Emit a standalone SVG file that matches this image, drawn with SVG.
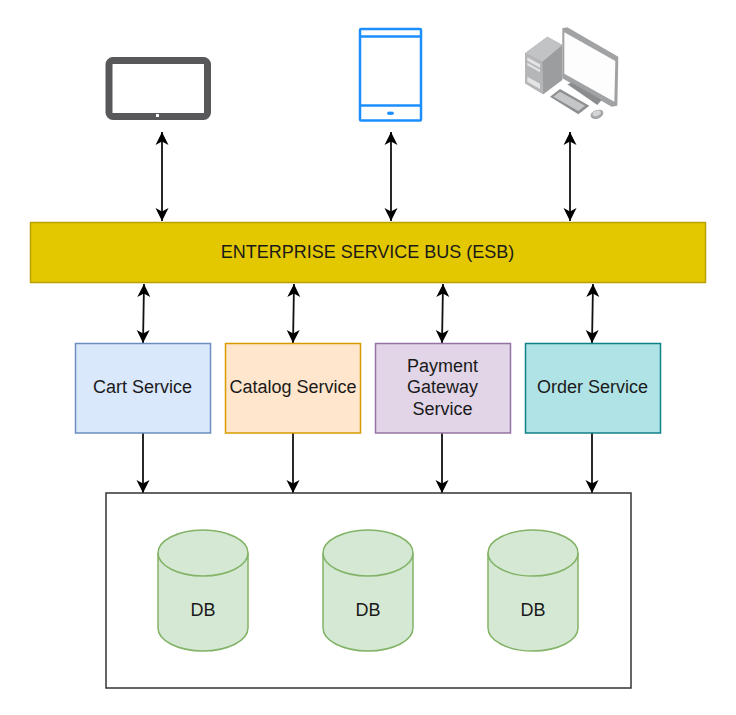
<svg xmlns="http://www.w3.org/2000/svg" width="736" height="715" viewBox="0 0 736 715">
<style>
text{font-family:"Liberation Sans",Arial,sans-serif;font-size:18px;fill:#1a1a1a;text-anchor:middle}
.db{fill:#d5e8d4;stroke:#82b366;stroke-width:1.5}
.box{stroke-width:1.5}
.c{fill:none;stroke:#111;stroke-width:1.8}
.both{marker-start:url(#as);marker-end:url(#ae)}
.one{marker-end:url(#ae)}
</style>
<defs>
<marker id="ae" markerUnits="userSpaceOnUse" markerWidth="16" markerHeight="16" refX="14" refY="8" orient="auto"><path d="M1 1.500L14 8L1 14.500L4.500 8Z" fill="#000"/></marker>
<marker id="as" markerUnits="userSpaceOnUse" markerWidth="16" markerHeight="16" refX="2" refY="8" orient="auto"><path d="M15 1.500L2 8L15 14.500L11.500 8Z" fill="#000"/></marker>
<filter id="soft" x="-5%" y="-5%" width="110%" height="110%"><feGaussianBlur stdDeviation="0.5"/></filter>
</defs>
<rect width="736" height="715" fill="#fff"/>
<g id="connectors">
<path class="c both" d="M162 132V221"/>
<path class="c both" d="M391 132V221"/>
<path class="c both" d="M570 132V221"/>
<path class="c both" d="M144 284L143 343"/>
<path class="c both" d="M294 284L293 343"/>
<path class="c both" d="M443 284L442 343"/>
<path class="c both" d="M593 284L592 343"/>
<path class="c one" d="M143 433V493"/>
<path class="c one" d="M293 433V493"/>
<path class="c one" d="M442 433V493"/>
<path class="c one" d="M592 433V493"/>
</g>
<g id="tablet" filter="url(#soft)">
<rect x="109" y="60.500" width="98.500" height="56" rx="4" fill="#fff" stroke="#58585a" stroke-width="7"/>
<rect x="156" y="114" width="3" height="3" fill="#fff"/>
</g>
<g id="phone" fill="none" stroke="#1e8fff" stroke-width="2.500" filter="url(#soft)">
<rect x="360" y="29" width="61" height="91.500" rx="1"/>
<path d="M360 36.500H421M360 105.500H421"/>
<rect x="387.500" y="112" width="6" height="2.500" rx="1.200" fill="#1e8fff" stroke-width="0.800"/>
</g>
<g id="desktop" transform="translate(510 15) scale(.3333)" filter="url(#soft)">
<path d="M45 115L112 65L157 90V195L100 238L45 205Z" fill="#9b9d9f"/>
<path d="M45 115L112 65L157 90L97 140Z" fill="#c2c3c5"/>
<path d="M45 115L97 140L100 238L45 205Z" fill="#b5b6b8"/>
<path d="M52 127L90 148V158L52 137ZM52 143L90 164V172L52 151ZM52 185L90 206V222L52 200Z" fill="#e4e4e5"/>
<path d="M157 40L172 37L325 125L322 272L305 275L157 190Z" fill="#a0a2a4"/>
<path d="M163 52L316 138L313 260L163 176Z" fill="#fdfdfd"/>
<path d="M172 208L185 203L275 255L262 270Z" fill="#8a8c8e"/>
<path d="M120 245L150 222L238 272L205 298Z" fill="#8d8f91"/>
<path d="M130 245L150 230L225 272L205 288Z" fill="#c5c6c8"/>
<ellipse cx="261" cy="298" rx="20" ry="13" transform="rotate(-20 261 298)" fill="#a3a5a7"/>
<ellipse cx="260" cy="295" rx="13" ry="8" transform="rotate(-20 260 295)" fill="#d4d5d6"/>
</g>
<g id="esb">
<rect x="30.500" y="222.500" width="675" height="60" fill="#e3c800" stroke="#b8a000" class="box"/>
<text x="367.500" y="258">ENTERPRISE SERVICE BUS (ESB)</text>
</g>
<g id="cart">
<rect x="75.500" y="343.500" width="135" height="89.500" fill="#dae8fc" stroke="#6c8ebf" class="box"/>
<text x="142.500" y="393">Cart Service</text>
</g>
<g id="catalog">
<rect x="225.500" y="343.500" width="135" height="89.500" fill="#ffe6cc" stroke="#d79b00" class="box"/>
<text x="293" y="393">Catalog Service</text>
</g>
<g id="payment">
<rect x="375.500" y="343.500" width="135" height="89.500" fill="#e1d5e7" stroke="#9673a6" class="box"/>
<text x="442.500" y="372">Payment</text>
<text x="442.500" y="393">Gateway</text>
<text x="442.500" y="415">Service</text>
</g>
<g id="order">
<rect x="525.500" y="343.500" width="135" height="89.500" fill="#b0e3e6" stroke="#0e8088" class="box"/>
<text x="592.500" y="393">Order Service</text>
</g>
<g id="datastore">
<rect x="106" y="493" width="525" height="195" fill="#fff" stroke="#333" stroke-width="1.500"/>
</g>
<g id="db1">
<path class="db" d="M158 553A45 23 0 0 1 248 553V628A45 23 0 0 1 158 628Z"/>
<path class="db" style="fill:none" d="M158 553A45 23 0 0 0 248 553"/>
<text x="203" y="616">DB</text>
</g>
<g id="db2">
<path class="db" d="M323 553A45 23 0 0 1 413 553V628A45 23 0 0 1 323 628Z"/>
<path class="db" style="fill:none" d="M323 553A45 23 0 0 0 413 553"/>
<text x="368" y="616">DB</text>
</g>
<g id="db3">
<path class="db" d="M488 553A45 23 0 0 1 578 553V628A45 23 0 0 1 488 628Z"/>
<path class="db" style="fill:none" d="M488 553A45 23 0 0 0 578 553"/>
<text x="533" y="616">DB</text>
</g>
</svg>
